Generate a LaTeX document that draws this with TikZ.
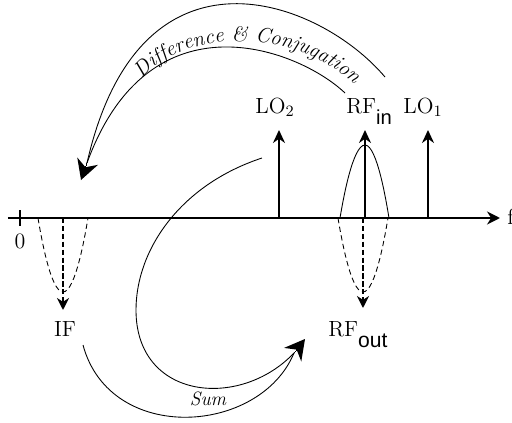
\documentclass[tikz,border=0pt]{standalone}
\usepackage{fontspec}
\newfontfamily\subsans{Liberation Sans}
\usetikzlibrary{arrows.meta,decorations.text}

\begin{document}
\begin{tikzpicture}[x=0.02cm,y=-0.02cm,
every node/.style={inner sep=0pt,font=\fontsize{12.5}{14}\selectfont},
axisline/.style={line width=1.1pt,-{Stealth[length=0.26cm,width=0.26cm]}},
spike/.style={line width=1.1pt,-{Stealth[length=0.26cm,width=0.24cm]}},
mirror/.style={line width=1.1pt,dash pattern=on 3pt off 1.5pt,-{Stealth[length=0.24cm,width=0.24cm]}},
lobe/.style={line width=0.5pt},
dlobe/.style={line width=0.5pt,dash pattern=on 3pt off 2pt},
band/.style={line width=0.5pt},
bandtip/.style={line width=0pt,-{Stealth[length=0.4cm,width=0.44cm]}}]
\useasboundingbox (0,0) rectangle (512,423);
\coordinate (O) at (8,218);
\coordinate (E) at (500,218);
\coordinate (z1) at (20,210);
\coordinate (z2) at (20,226);
\draw[axisline] (O) -- (E);
\draw[line width=1.1pt] (z1) -- (z2);
\node[anchor=base] (zero) at (20,248) {0};
\node[anchor=base west] (f) at (507,224) {f};
\coordinate (IFa) at (63,218);
\coordinate (IFb) at (63,310);
\draw[dlobe] (38,218) parabola bend (63,292) (88,218);
\draw[mirror] (IFa) -- (IFb);
\node[anchor=base] (IF) at (65,337) {IF};
\coordinate (LOba) at (279,218);
\coordinate (LObb) at (279,130);
\draw[spike] (LOba) -- (LObb);
\node[anchor=base] (LOb) at (275,113) {LO$_2$};
\coordinate (RFa) at (365,218);
\coordinate (RFb) at (365,130);
\draw[lobe] (340,218) parabola bend (365,145) (389,218);
\draw[spike] (RFa) -- (RFb);
\node[anchor=base west] (RFin) at (346,113) {RF\raisebox{-6.5pt}{\subsans\fontsize{11.5}{12}\selectfont in}};
\coordinate (LOaa) at (428,218);
\coordinate (LOab) at (428,130);
\draw[spike] (LOaa) -- (LOab);
\node[anchor=base] (LOa) at (423,113) {LO$_1$};
\coordinate (RFc) at (363,218);
\coordinate (RFd) at (363,308);
\draw[dlobe] (338,218) parabola bend (363,292) (388,218);
\draw[mirror] (RFc) -- (RFd);
\node[anchor=base west] (RFout) at (328,337) {RF\raisebox{-6pt}{\subsans\fontsize{12}{13}\selectfont out}};
\coordinate (d1) at (385,77);
\coordinate (d2) at (345,93);
\coordinate (t1b) at (87,163);
\coordinate (t1) at (81,180);
\draw[band] (d1) .. controls (320,0) and (140,-70) .. (t1b);
\draw[band] (d2) .. controls (300,50) and (150,-10) .. (t1b);
\draw[bandtip] (t1b) -- (t1);
\path[decorate,decoration={text along path,text align=center,
text={|\large\itshape|Difference {\&} Conjugation}}]
(135,88) .. controls (175,25) and (300,25) .. (362,92);
\coordinate (s1) at (83,345);
\coordinate (s2) at (262,158);
\coordinate (t2b) at (294,353);
\coordinate (t2) at (305,339);
\draw[band] (s1) .. controls (110,445) and (260,435) .. (t2b);
\draw[band] (s2) .. controls (180,185) and (136,250) .. (136,310) .. controls (136,400) and (240,410) .. (t2b);
\draw[bandtip] (t2b) -- (t2);
\node[anchor=base,font=\fontsize{11}{12}\selectfont\itshape] (sum) at (208,405) {Sum};
\end{tikzpicture}
\end{document}
